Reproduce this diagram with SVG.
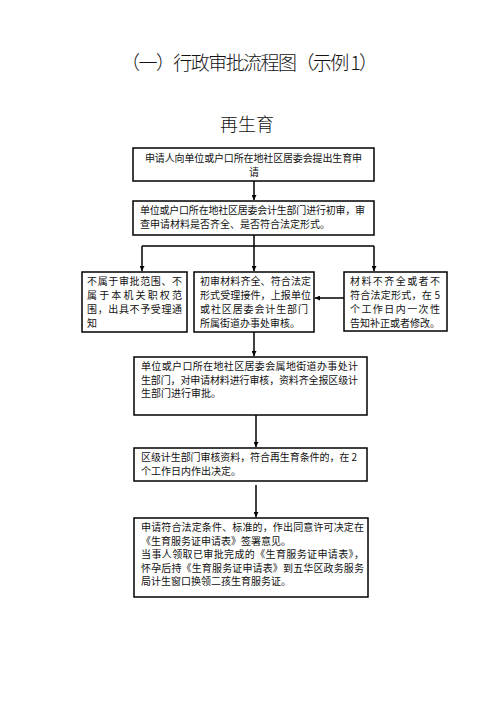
<svg xmlns="http://www.w3.org/2000/svg" width="496" height="702" viewBox="0 0 496 702">
<style>
  .box { fill: #fff; stroke: #000; stroke-width: 1.5; }
  .t { font-family: "Noto Sans CJK SC", "Liberation Serif", serif; font-size: 10px; fill: #111; }
  .title { font-family: "Noto Sans CJK SC", "Liberation Sans", sans-serif; fill: #111; font-weight: 300; }
  .ln { stroke: #000; stroke-width: 1.5; fill: none; }
</style>
<defs>
  <marker id="ah" viewBox="0 0 10 10" refX="10" refY="5" markerWidth="5" markerHeight="5" orient="auto" markerUnits="userSpaceOnUse">
    <path d="M0,0 L10,5 L0,10 z" fill="#000"/>
  </marker>
</defs>
<rect width="496" height="702" fill="#fff"/>
<text class="title" x="121" y="70" font-size="19" textLength="257" lengthAdjust="spacing">（一）行政审批流程图（示例 1）</text>
<text class="title" x="247" y="131" font-size="18" text-anchor="middle">再生育</text>

<g id="connectors">
  <line class="ln" x1="254" y1="181" x2="254" y2="200" marker-end="url(#ah)"/>
  <line class="ln" x1="254" y1="235" x2="254" y2="246"/>
  <line class="ln" x1="142" y1="246" x2="374" y2="246"/>
  <line class="ln" x1="142" y1="246" x2="142" y2="271" marker-end="url(#ah)"/>
  <line class="ln" x1="254" y1="246" x2="254" y2="271" marker-end="url(#ah)"/>
  <line class="ln" x1="374" y1="246" x2="374" y2="271" marker-end="url(#ah)"/>
  <line class="ln" x1="344" y1="298" x2="315" y2="298" marker-end="url(#ah)"/>
  <line class="ln" x1="254" y1="332" x2="254" y2="356" marker-end="url(#ah)"/>
  <line class="ln" x1="256" y1="415" x2="256" y2="447" marker-end="url(#ah)"/>
  <line class="ln" x1="256" y1="485" x2="256" y2="517" marker-end="url(#ah)"/>
</g>

<g id="n1">
  <rect class="box" x="133" y="148" width="241" height="33"/>
  <text class="t" x="145" y="162" textLength="217" lengthAdjust="spacing">申请人向单位或户口所在地社区居委会提出生育申</text>
  <text class="t" x="254" y="176" text-anchor="middle">请</text>
</g>

<g id="n2">
  <rect class="box" x="133" y="201" width="241" height="34"/>
  <text class="t" x="140" y="214" textLength="225" lengthAdjust="spacing">单位或户口所在地社区居委会计生部门进行初审，审</text>
  <text class="t" x="140" y="228">查申请材料是否齐全、是否符合法定形式。</text>
</g>

<g id="n3">
  <rect class="box" x="82" y="272" width="105" height="60"/>
  <text class="t" x="87" y="285" textLength="95" lengthAdjust="spacing">不属于审批范围、不</text>
  <text class="t" x="87" y="299" textLength="95" lengthAdjust="spacing">属于本机关职权范</text>
  <text class="t" x="87" y="313" textLength="95" lengthAdjust="spacing">围，出具不予受理通</text>
  <text class="t" x="87" y="327">知</text>
</g>

<g id="n4">
  <rect class="box" x="194" y="272" width="120" height="60"/>
  <text class="t" x="200" y="285" textLength="111" lengthAdjust="spacing">初审材料齐全、符合法定</text>
  <text class="t" x="200" y="299" textLength="111" lengthAdjust="spacing">形式受理接件，上报单位</text>
  <text class="t" x="200" y="313" textLength="108" lengthAdjust="spacing">或社区居委会计生部门</text>
  <text class="t" x="200" y="327">所属街道办事处审核。</text>
</g>

<g id="n5">
  <rect class="box" x="344" y="272" width="103" height="59"/>
  <text class="t" x="350" y="285" textLength="90" lengthAdjust="spacing">材料不齐全或者不</text>
  <text class="t" x="350" y="299" textLength="90" lengthAdjust="spacing">符合法定形式，在 5</text>
  <text class="t" x="350" y="313" textLength="90" lengthAdjust="spacing">个工作日内一次性</text>
  <text class="t" x="350" y="327" textLength="90" lengthAdjust="spacing">告知补正或者修改。</text>
</g>

<g id="n6">
  <rect class="box" x="134" y="357" width="233" height="58"/>
  <text class="t" x="141" y="370" textLength="217" lengthAdjust="spacing">单位或户口所在地社区居委会属地街道办事处计</text>
  <text class="t" x="141" y="383.5" textLength="217" lengthAdjust="spacing">生部门，对申请材料进行审核，资料齐全报区级计</text>
  <text class="t" x="141" y="397">生部门进行审批。</text>
</g>

<g id="n7">
  <rect class="box" x="134" y="448" width="233" height="33"/>
  <text class="t" x="141" y="461" textLength="216" lengthAdjust="spacing">区级计生部门审核资料，符合再生育条件的，在 2</text>
  <text class="t" x="141" y="475">个工作日内作出决定。</text>
</g>

<g id="n8">
  <rect class="box" x="134" y="518" width="234" height="79"/>
  <text class="t" x="141" y="531" textLength="223" lengthAdjust="spacing">申请符合法定条件、标准的，作出同意许可决定在</text>
  <text class="t" x="141" y="544.5">《生育服务证申请表》签署意见。</text>
  <text class="t" x="141" y="558" textLength="223" lengthAdjust="spacing">当事人领取已审批完成的《生育服务证申请表》，</text>
  <text class="t" x="141" y="571.5" textLength="223" lengthAdjust="spacing">怀孕后持《生育服务证申请表》到五华区政务服务</text>
  <text class="t" x="141" y="585">局计生窗口换领二孩生育服务证。</text>
</g>
</svg>
